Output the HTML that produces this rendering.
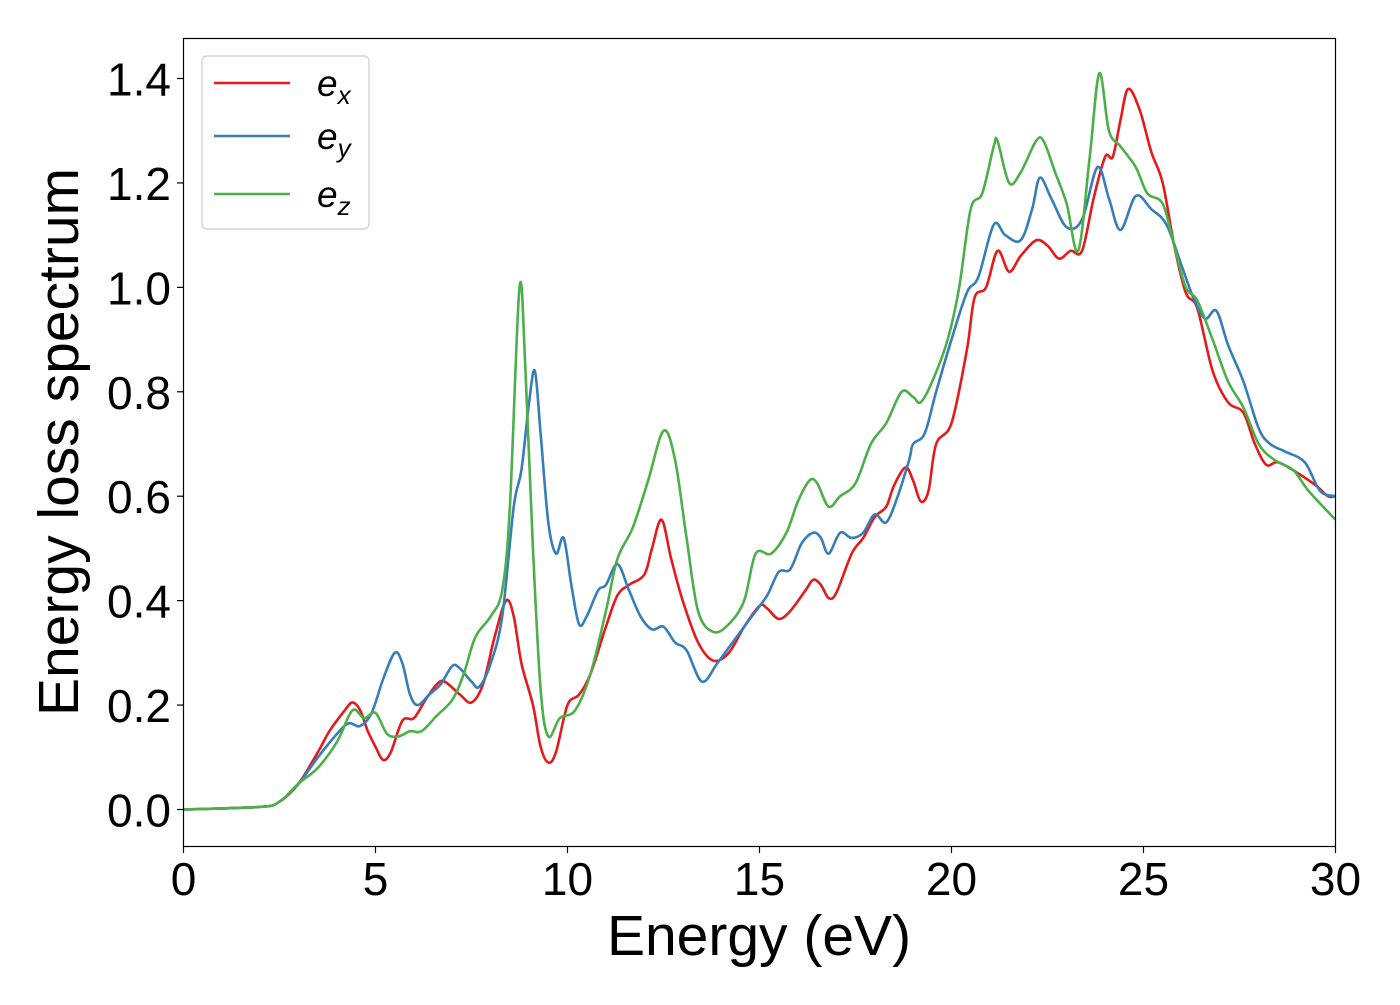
<!DOCTYPE html>
<html><head><meta charset="utf-8"><style>
body{margin:0;background:#fff}
svg text{font-family:"Liberation Sans","DejaVu Sans",sans-serif;fill:#000}
</style></head><body>
<svg id="chart" width="1400" height="1000" xmlns="http://www.w3.org/2000/svg">
<g id="plot"></g>
<rect x="183.5" y="38.5" width="1152" height="808" fill="none" stroke="#000" stroke-width="1.2"/>
<g id="xt"></g>
<g id="yt"></g>
<text x="759" y="955" font-size="57" text-anchor="middle">Energy (eV)</text>
<text transform="translate(78,442) rotate(-90)" font-size="57" text-anchor="middle">Energy loss spectrum</text>
<g>
<rect x="202" y="56" width="167" height="173" rx="5" fill="#fff" stroke="#ccc" stroke-width="1.2"/>
<line x1="214" y1="83" x2="290" y2="83" stroke="#e41a1c" stroke-width="2.5"/>
<line x1="214" y1="136" x2="290" y2="136" stroke="#377eb8" stroke-width="2.5"/>
<line x1="214" y1="194" x2="290" y2="194" stroke="#4daf4a" stroke-width="2.5"/>
<text x="317" y="96" font-size="37" font-style="italic">e<tspan font-size="26" dy="8">x</tspan></text>
<text x="317" y="149" font-size="37" font-style="italic">e<tspan font-size="26" dy="8">y</tspan></text>
<text x="317" y="207" font-size="37" font-style="italic">e<tspan font-size="26" dy="8">z</tspan></text>
</g>
</svg>
<script>
const xTicks=[0,5,10,15,20,25,30];
const yTicks=[0,0.2,0.4,0.6,0.8,1.0,1.2,1.4];
const exX=[0,2,2.5,3,3.5,3.8,4.2,4.4,4.6,4.8,5,5.2,5.4,5.7,6,6.3,6.6,6.8,7.2,7.5,7.8,8.1,8.4,8.6,8.8,9.1,9.3,9.5,9.7,10,10.3,10.6,11,11.3,11.6,12,12.2,12.45,12.7,13,13.4,13.8,14.2,14.6,15,15.2,15.5,15.8,16.2,16.4,16.6,16.8,17,17.4,17.7,18,18.3,18.5,18.8,19,19.2,19.4,19.6,20,20.4,20.6,20.9,21.2,21.5,21.8,22.2,22.5,22.8,23.1,23.4,23.7,24,24.2,24.4,24.6,24.9,25.2,25.5,25.8,26.1,26.4,26.8,27.2,27.6,27.9,28.2,28.5,29,29.5,29.8,30];
const exY=[0,0.005,0.015,0.05,0.11,0.15,0.19,0.205,0.19,0.15,0.12,0.095,0.11,0.17,0.175,0.21,0.24,0.245,0.22,0.205,0.24,0.33,0.4,0.37,0.28,0.2,0.12,0.09,0.11,0.2,0.22,0.26,0.35,0.41,0.43,0.45,0.5,0.555,0.48,0.4,0.32,0.285,0.3,0.35,0.39,0.385,0.365,0.38,0.42,0.44,0.43,0.405,0.415,0.49,0.52,0.56,0.58,0.62,0.655,0.63,0.59,0.61,0.7,0.74,0.88,0.98,1.0,1.07,1.03,1.06,1.09,1.08,1.055,1.07,1.07,1.17,1.25,1.25,1.32,1.38,1.34,1.26,1.2,1.08,0.99,0.96,0.84,0.78,0.76,0.7,0.66,0.665,0.645,0.62,0.6,0.6];
const eyX=[0,2,2.5,3,3.5,4,4.3,4.6,4.9,5.2,5.5,5.7,5.9,6.1,6.4,6.7,7,7.2,7.5,7.7,8,8.3,8.6,8.8,9,9.15,9.3,9.5,9.7,9.9,10.1,10.3,10.5,10.8,11,11.3,11.6,11.9,12.2,12.5,12.8,13.1,13.5,13.9,14.3,14.8,15.2,15.5,15.8,16.1,16.4,16.6,16.8,17.1,17.4,17.7,18,18.3,18.6,18.9,19,19.3,19.6,20,20.4,20.7,21.1,21.4,21.8,22.1,22.3,22.6,23,23.4,23.8,24.1,24.4,24.8,25.2,25.6,26,26.3,26.6,26.9,27.2,27.6,28,28.3,28.7,29.2,29.6,30];
const eyY=[0,0.005,0.015,0.05,0.1,0.145,0.165,0.16,0.185,0.25,0.3,0.28,0.22,0.2,0.22,0.24,0.275,0.27,0.245,0.235,0.28,0.37,0.58,0.65,0.78,0.84,0.72,0.55,0.49,0.52,0.43,0.355,0.37,0.42,0.43,0.47,0.42,0.37,0.345,0.35,0.32,0.305,0.245,0.28,0.32,0.37,0.41,0.455,0.46,0.51,0.53,0.52,0.49,0.53,0.52,0.53,0.565,0.55,0.6,0.67,0.7,0.72,0.8,0.9,0.99,1.02,1.12,1.1,1.09,1.15,1.21,1.17,1.115,1.13,1.23,1.17,1.11,1.175,1.15,1.12,1.04,0.98,0.94,0.955,0.89,0.82,0.73,0.7,0.685,0.665,0.61,0.6];
const ezX=[0,2,2.5,3,3.5,4,4.4,4.7,5,5.3,5.6,5.9,6.2,6.6,7,7.3,7.6,8,8.3,8.5,8.75,8.9,9.1,9.3,9.5,9.8,10.2,10.6,11,11.3,11.7,12.1,12.5,12.8,13.1,13.4,13.8,14.2,14.6,14.9,15.3,15.7,16,16.3,16.5,16.8,17.1,17.5,17.9,18.3,18.7,19,19.2,19.5,19.9,20.2,20.5,20.8,21.1,21.2,21.5,21.8,22.2,22.4,22.7,23,23.3,23.6,23.85,24.1,24.4,24.8,25.1,25.5,25.8,26.1,26.4,26.8,27.2,27.6,28,28.4,28.9,29.3,30];
const ezY=[0,0.005,0.015,0.05,0.08,0.13,0.19,0.175,0.185,0.145,0.14,0.15,0.15,0.18,0.21,0.26,0.33,0.37,0.42,0.58,1.0,0.85,0.5,0.23,0.14,0.175,0.19,0.26,0.38,0.48,0.54,0.63,0.725,0.67,0.52,0.38,0.34,0.355,0.4,0.49,0.49,0.53,0.59,0.63,0.625,0.58,0.6,0.625,0.7,0.74,0.8,0.79,0.78,0.82,0.9,1.0,1.15,1.18,1.27,1.28,1.2,1.22,1.28,1.28,1.22,1.16,1.07,1.25,1.41,1.3,1.27,1.23,1.18,1.16,1.08,1.0,0.975,0.9,0.82,0.77,0.7,0.67,0.65,0.61,0.555];
const NS='http://www.w3.org/2000/svg';
const sx=v=>183.5+v*(1152/30);
const sy=v=>809.5-v*(731/1.4);
function mk(t,a,p){const e=document.createElementNS(NS,t);for(const k in a)e.setAttribute(k,a[k]);p.appendChild(e);return e;}
const xt=document.getElementById('xt'),yt=document.getElementById('yt'),plot=document.getElementById('plot');
xTicks.forEach(v=>{
 const l=mk('line',{x1:sx(v),x2:sx(v),y1:846.5,y2:853,stroke:'#000','stroke-width':1.2},xt);
 
 
 const t=mk('text',{x:sx(v),y:895,'font-size':46,'text-anchor':'middle'},xt);t.textContent=v;
 
 
});
yTicks.forEach(v=>{
 const l=mk('line',{x1:177,x2:183.5,y1:sy(v),y2:sy(v),stroke:'#000','stroke-width':1.2},yt);
 
 
 const t=mk('text',{x:171,y:sy(v)+17,'font-size':46,'text-anchor':'end'},yt);t.textContent=v.toFixed(1);
 
 
});
function path(X,Y){
 const P=X.map((x,i)=>[sx(x),sy(Y[i])]);
 let d='M'+P[0][0]+','+P[0][1];
 for(let i=0;i<P.length-1;i++){
  const p0=P[Math.max(0,i-1)],p1=P[i],p2=P[i+1],p3=P[Math.min(P.length-1,i+2)];
  const c1=[p1[0]+(p2[0]-p0[0])/6,p1[1]+(p2[1]-p0[1])/6],c2=[p2[0]-(p3[0]-p1[0])/6,p2[1]-(p3[1]-p1[1])/6];
  d+=`C${c1[0]},${c1[1]} ${c2[0]},${c2[1]} ${p2[0]},${p2[1]}`;
 }
 return d;
}
[[exX,exY,'#e41a1c','series-ex'],[eyX,eyY,'#377eb8','series-ey'],[ezX,ezY,'#4daf4a','series-ez']].forEach(s=>{
 const p=mk('path',{d:path(s[0],s[1]),fill:'none',stroke:s[2],'stroke-width':2.6,'stroke-linejoin':'round'},plot);
 
 
});
</script>
</body></html>
